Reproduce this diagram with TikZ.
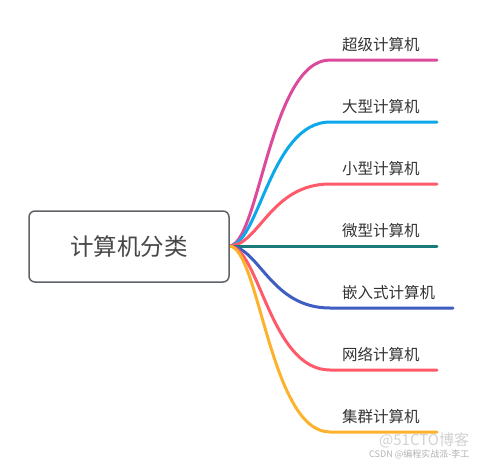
\documentclass[tikz,border=0pt]{standalone}
\usepackage{fontspec}
\newfontfamily\cjk{Noto Sans CJK SC}
\definecolor{cA}{HTML}{DC4A9C}
\definecolor{cB}{HTML}{0BA8EA}
\definecolor{cC}{HTML}{FF5A6A}
\definecolor{cD}{HTML}{1A7A7C}
\definecolor{cE}{HTML}{3F5EC1}
\definecolor{cF}{HTML}{FF5A6A}
\definecolor{cG}{HTML}{FDB22D}
\definecolor{boxc}{HTML}{5F6368}
\definecolor{txt}{HTML}{333333}
\begin{document}
\begin{tikzpicture}[x=1pt,y=-1pt,
  rootbox/.style={draw=boxc,line width=1.5pt,rounded corners=6pt,fill=white,minimum width=200pt,minimum height=71pt,inner sep=0pt,font=\cjk\fontsize{23.5}{26}\selectfont,text=txt!90!white},
  leaf/.style={font=\cjk\fontsize{15.5}{18}\selectfont,text=txt,anchor=west,inner sep=0pt},
  branch/.style={line width=3pt,line cap=round}]
\useasboundingbox (0,0) rectangle (483,464);
\coordinate (o) at (229,246);
\foreach \n/\y/\e in {1/60/437,2/122/437,3/184/437,4/246/437,5/308/453,6/370/437,7/432/437}{
  \coordinate (s\n) at (330,\y);
  \coordinate (e\n) at (\e,\y);
}
\draw[branch,cA] (o) .. controls (259,246) and (270,60) .. (s1) -- (e1);
\draw[branch,cB] (o) .. controls (259,246) and (270,122) .. (s2) -- (e2);
\draw[branch,cC] (o) .. controls (259,246) and (270,184) .. (s3) -- (e3);
\draw[branch,cD] (o) -- (s4) -- (e4);
\draw[branch,cE] (o) .. controls (259,246) and (270,308) .. (s5) -- (e5);
\draw[branch,cF] (o) .. controls (259,246) and (270,370) .. (s6) -- (e6);
\draw[branch,cG] (o) .. controls (259,246) and (270,432) .. (s7) -- (e7);
\node[rootbox] (root) at (129,246.5) {计算机分类};
\node[leaf] (l1) at (342,45) {超级计算机};
\node[leaf] (l2) at (342,107) {大型计算机};
\node[leaf] (l3) at (342,169) {小型计算机};
\node[leaf] (l4) at (342,231) {微型计算机};
\node[leaf] (l5) at (342,293) {嵌入式计算机};
\node[leaf] (l6) at (342,355) {网络计算机};
\node[leaf] (l7) at (342,417) {集群计算机};
\node[font=\cjk\fontsize{15}{17}\selectfont,text=black!18,anchor=west,inner sep=0pt] (wm1) at (379,440) {@51CTO博客};
\node[font=\cjk\fontsize{9}{10}\selectfont,text=black!30,anchor=west,inner sep=0pt] (wm2) at (369,454) {CSDN @编程实战派-李工};
\end{tikzpicture}
\end{document}
